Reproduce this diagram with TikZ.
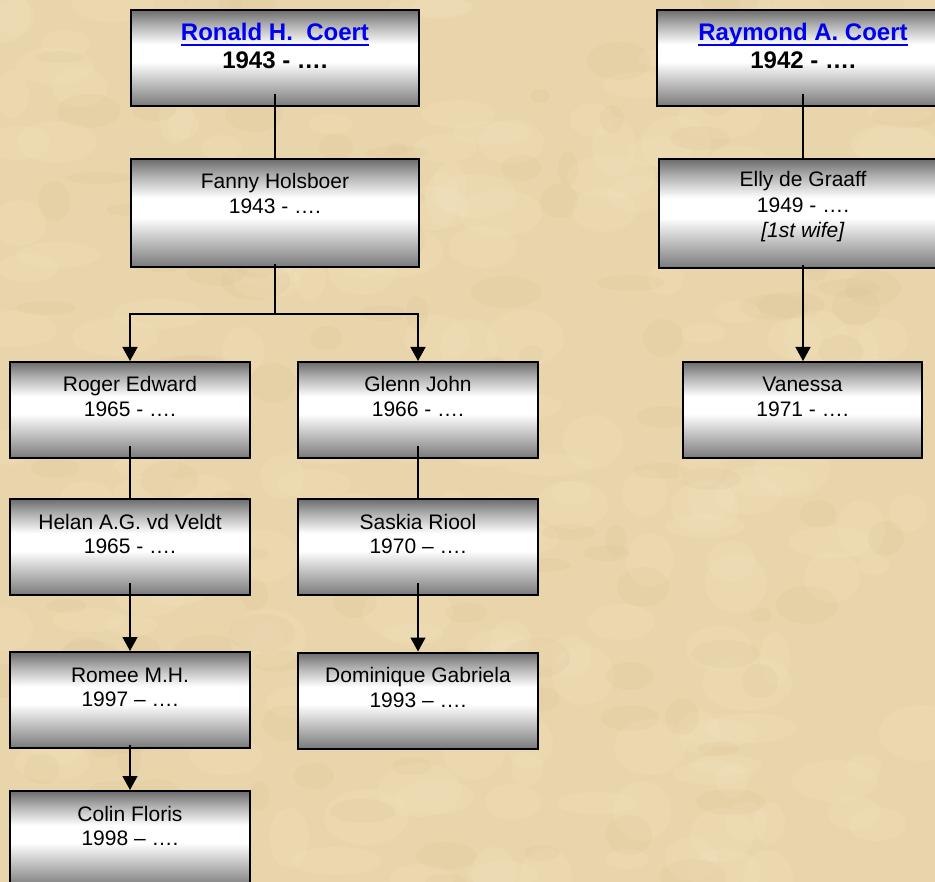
\documentclass[tikz,border=0pt]{standalone}
\usepackage{fontspec}
\setmainfont{Liberation Sans}
\usetikzlibrary{arrows.meta}
\definecolor{parchment}{HTML}{E9D5AB}
\definecolor{parchlight}{HTML}{F6E8C9}
\definecolor{parchdark}{HTML}{D2B98C}
\definecolor{linkblue}{HTML}{0000F0}
\definecolor{boxtop}{HTML}{7A7A7A}
\definecolor{boxbot}{HTML}{6C6C6C}
% the picture uses y=-1pt, which flips the shading: 25bp is the top of a box
\pgfdeclareverticalshading{boxshade}{100bp}{%
  color(0bp)=(boxtop); color(25bp)=(boxtop); color(48bp)=(white);
  color(57bp)=(white); color(67bp)=(black!30); color(75bp)=(boxbot); color(100bp)=(boxbot)}
\newcommand\mylink[1]{\setbox0\hbox{#1}\rlap{\rule[-5pt]{\wd0}{2pt}}\box0}
\tikzset{
  famtree/.style={x=1pt,y=-1pt},
  pbox/.style={rectangle, draw=black, line width=2pt, shading=boxshade, inner sep=0pt},
  wide/.style={pbox, minimum width=288pt},
  narrow/.style={pbox, minimum width=240pt, minimum height=96pt},
  txt/.style={anchor=base, align=center, inner sep=0pt, font=\fontsize{21}{24.5}\selectfont},
  btxt/.style={anchor=base, align=center, inner sep=0pt, font=\fontsize{24}{28}\selectfont\bfseries},
  conn/.style={draw=black, line width=1.4pt},
  arr/.style={conn, -{Triangle[width=15pt,length=14pt]}},
  blotlight/.style={fill=parchlight, opacity=0.16},
  blotdark/.style={fill=parchdark, opacity=0.12}
}
\begin{document}
\begin{tikzpicture}[famtree]
\fill[parchment] (0,0) rectangle (935,882);
\useasboundingbox (0,0) rectangle (935,882);
\begin{scope}
\clip (0,0) rectangle (935,882);
% soft parchment texture
\pgfmathsetseed{7}
\foreach \i in {1,...,200}{
  \pgfmathsetmacro{\bx}{random(0,935)}
  \pgfmathsetmacro{\by}{random(0,882)}
  \pgfmathsetmacro{\br}{random(15,45)}
  \pgfmathsetmacro{\bq}{random(10,30)}
  \fill[blotlight] (\bx,\by) ellipse [x radius=\br, y radius=\bq];
}
\foreach \i in {1,...,140}{
  \pgfmathsetmacro{\bx}{random(0,935)}
  \pgfmathsetmacro{\by}{random(0,882)}
  \pgfmathsetmacro{\br}{random(10,35)}
  \pgfmathsetmacro{\bq}{random(6,20)}
  \fill[blotdark] (\bx,\by) ellipse [x radius=\br, y radius=\bq];
}
% boxes
\node[wide, minimum height=96pt] (ronald) at (275,58) {};
\node[wide, minimum height=108pt] (fanny) at (275,213) {};
\node[pbox, minimum width=292pt, minimum height=96pt] (raymond) at (803,58) {};
\node[wide, minimum height=109pt] (elly) at (803,213.5) {};
\node[narrow] (roger) at (130,410) {};
\node[narrow] (glenn) at (418,410) {};
\node[narrow, minimum width=239pt] (vanessa) at (802.5,410) {};
\node[narrow] (helan) at (130,547) {};
\node[narrow] (saskia) at (418,547) {};
\node[narrow] (romee) at (130,700) {};
\node[narrow] (dominique) at (418,700.5) {};
\node[narrow] (colin) at (130,839) {};
% texts (anchor base = baseline of the last line)
\node[btxt] (ronaldT) at ([yshift=-60pt]ronald.north) {{\color{linkblue}\mylink{Ronald H.\ \ Coert}}\\1943 - ….};
\node[btxt] (raymondT) at ([yshift=-60pt]raymond.north) {{\color{linkblue}\mylink{Raymond A. Coert}}\\1942 - ….};
\node[txt] (fannyT) at ([yshift=-55.5pt]fanny.north) {Fanny Holsboer\\1943 - ….};
\node[txt, font=\fontsize{21}{25.5}\selectfont] (ellyT) at ([yshift=-80pt]elly.north) {Elly de Graaff\\1949 - ….\\\textit{[1st wife]}};
\node[txt] (rogerT) at ([yshift=-55.5pt]roger.north) {Roger Edward\\1965 - ….};
\node[txt] (glennT) at ([yshift=-55.5pt]glenn.north) {Glenn John\\1966 - ….};
\node[txt] (vanessaT) at ([yshift=-55.5pt]vanessa.north) {Vanessa\\1971 - ….};
\node[txt] (helanT) at ([yshift=-55.5pt]helan.north) {Helan A.G. vd Veldt\\1965 - ….};
\node[txt] (saskiaT) at ([yshift=-55.5pt]saskia.north) {Saskia Riool\\1970 – ….};
\node[txt] (romeeT) at ([yshift=-55.5pt]romee.north) {Romee M.H.\\1997 – ….};
\node[txt] (dominiqueT) at ([yshift=-55.5pt]dominique.north) {Dominique Gabriela\\1993 – ….};
\node[txt] (colinT) at ([yshift=-55.5pt]colin.north) {Colin Floris\\1998 – ….};
% connectors
\draw[conn] ([yshift=13pt]ronald.south) -- (fanny.north);
\draw[conn] ([yshift=13pt]raymond.south) -- (elly.north);
\coordinate (fork) at (275,314);
\draw[conn] ([yshift=4pt]fanny.south) -- (fork);
\draw[arr] (fork) -| (roger.north);
\draw[arr] (fork) -| (glenn.north);
\draw[arr] ([yshift=4pt]elly.south) -- (elly.south |- vanessa.north);
\draw[conn] ([yshift=13pt]roger.south) -- (helan.north);
\draw[conn] ([yshift=13pt]glenn.south) -- (saskia.north);
\draw[arr] ([yshift=13pt]helan.south) -- (romee.north);
\draw[arr] ([yshift=13pt]saskia.south) -- (dominique.north);
\draw[arr] ([yshift=4pt]romee.south) -- (colin.north);
\end{scope}
\end{tikzpicture}
\end{document}
